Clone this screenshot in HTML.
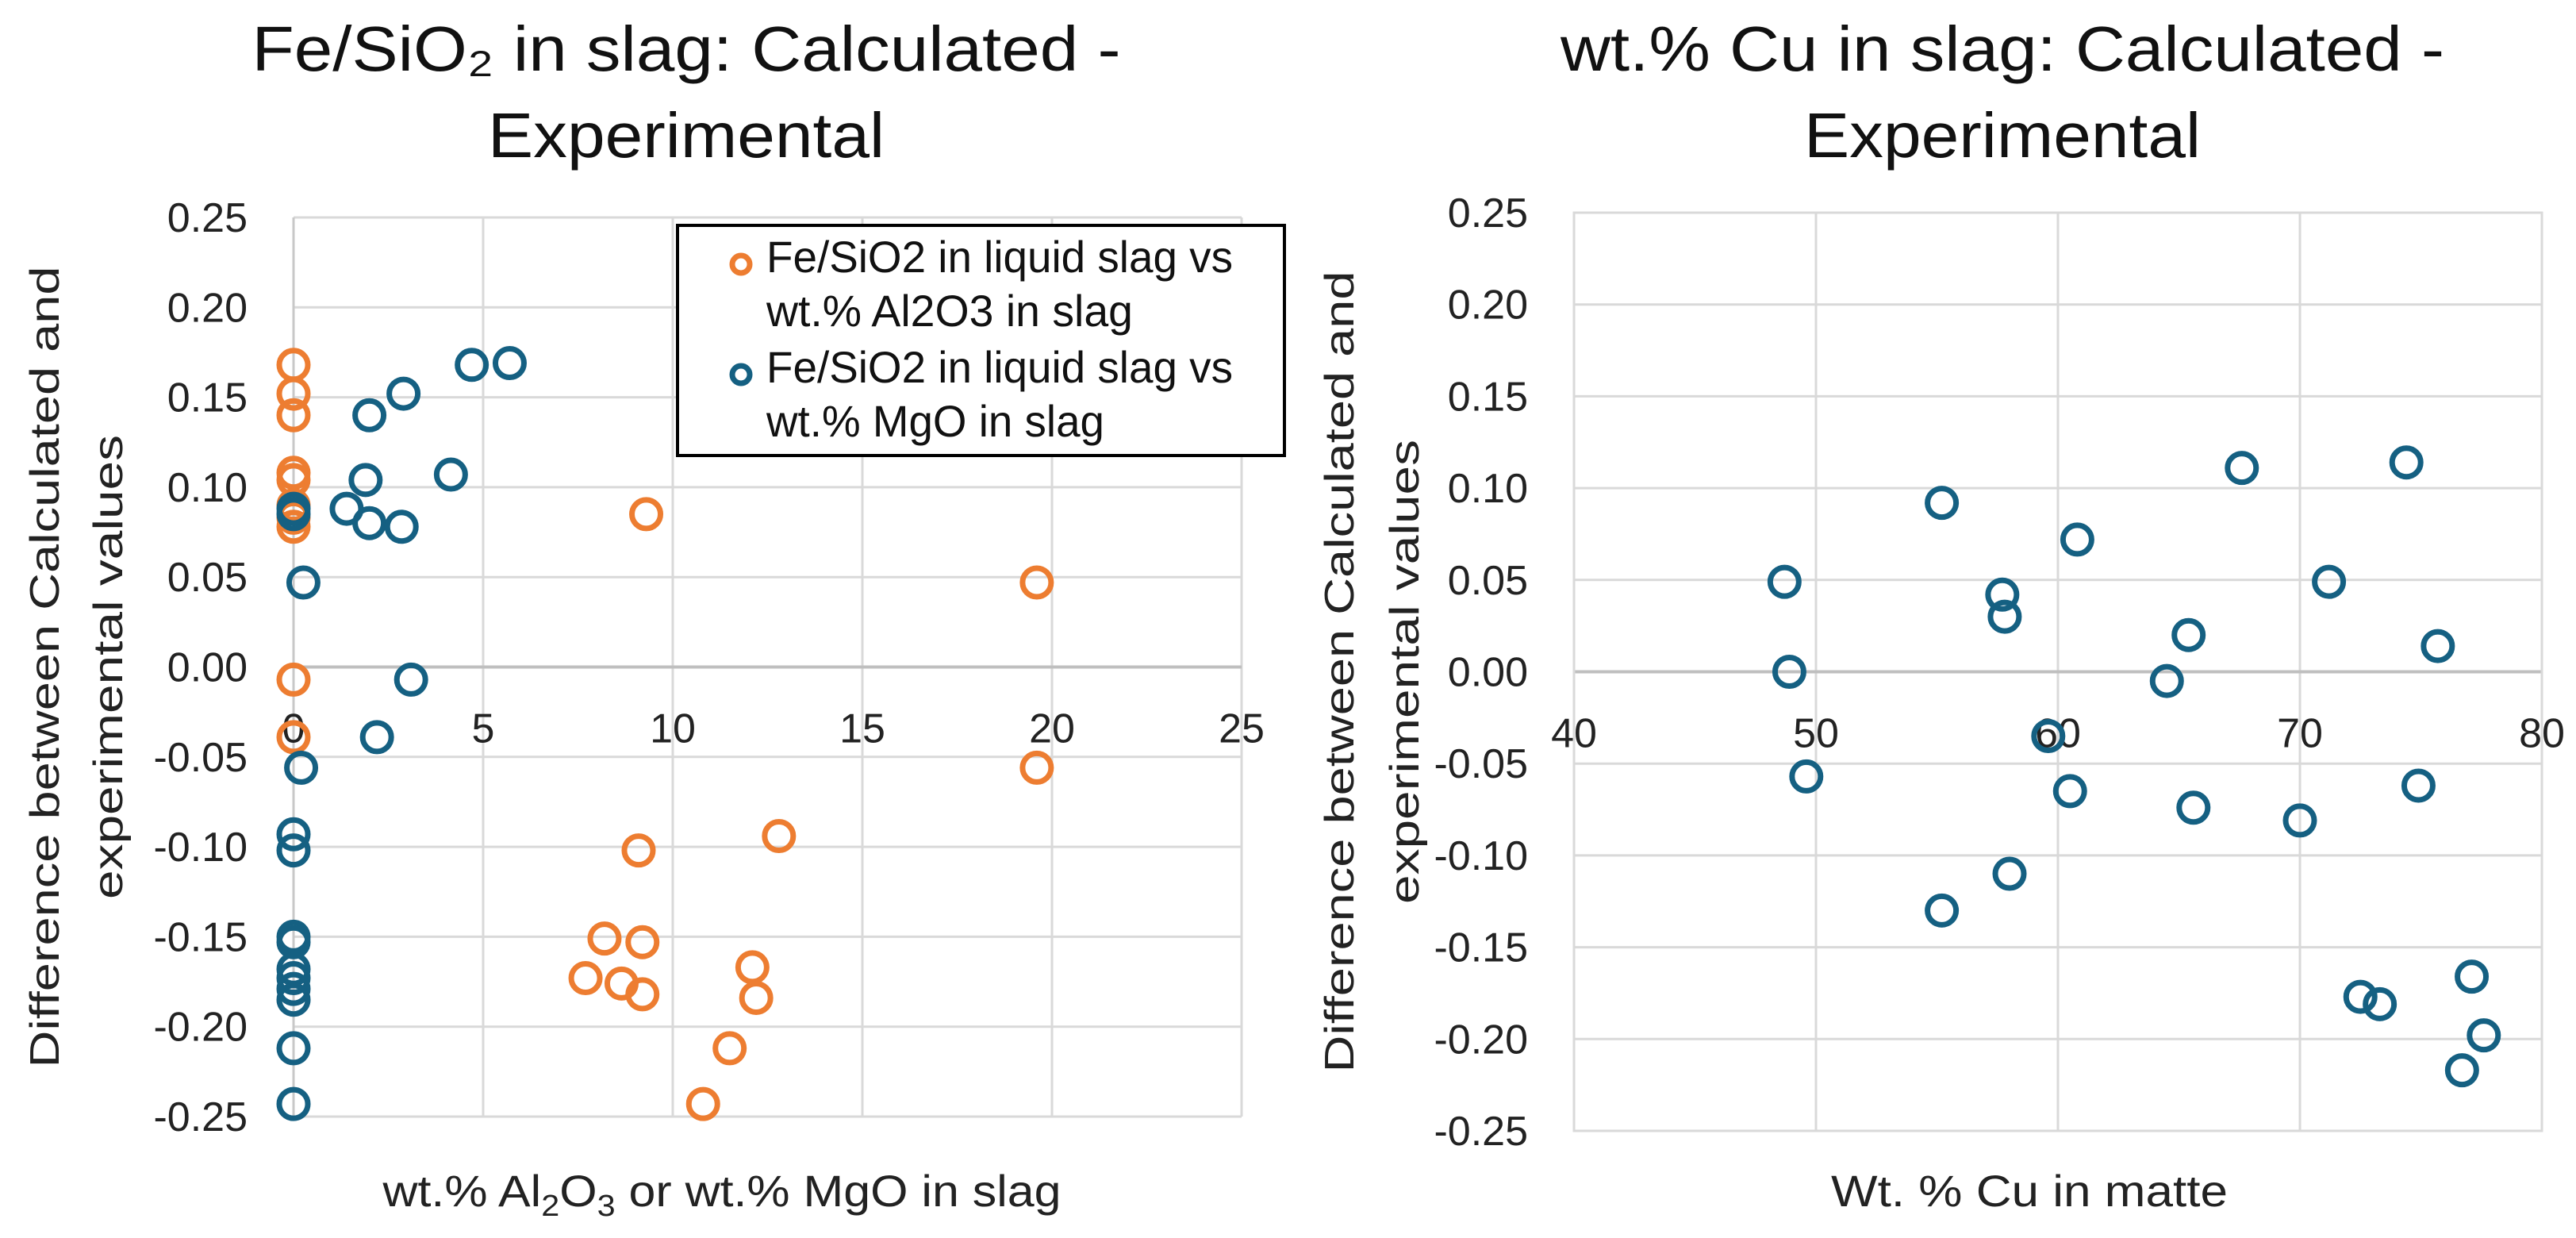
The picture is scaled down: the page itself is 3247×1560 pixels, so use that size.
<!DOCTYPE html>
<html><head><meta charset="utf-8"><style>
html,body{margin:0;padding:0;background:#fff;}
svg{display:block;font-family:"Liberation Sans",sans-serif;}
</style></head><body>
<svg id="c" width="3247" height="1560" viewBox="0 0 3247 1560" xmlns="http://www.w3.org/2000/svg">
<rect width="3247" height="1560" fill="#fff"/>
<g id="left"></g>
<g id="right"></g>
</svg>
<script>
// ---- Left chart data ----
const alX = [0,0,0,0,0,0,0,0,0,0,9.3,19.6,19.6,9.1,12.8,8.2,9.2,7.7,8.65,9.2,12.1,12.2,11.5,10.8];
const alY = [0.168,0.152,0.140,0.108,0.104,0.090,0.083,0.078,-0.007,-0.039,0.085,0.047,-0.056,-0.102,-0.094,-0.151,-0.153,-0.173,-0.176,-0.182,-0.167,-0.184,-0.212,-0.243];
const mgX = [5.7,4.7,2.9,2.0,4.15,1.9,1.4,2.0,2.85,0,0,0.26,3.1,2.2,0.2,0,0,0,0,0,0,0,0,0,0];
const mgY = [0.169,0.168,0.152,0.140,0.107,0.104,0.088,0.080,0.078,0.088,0.085,0.047,-0.007,-0.039,-0.056,-0.093,-0.102,-0.150,-0.153,-0.168,-0.173,-0.179,-0.185,-0.212,-0.243];
const leftXTicks = [0,5,10,15,20,25];
// ---- Right chart data ----
const cuX = [48.7,48.9,49.6,55.2,55.2,57.7,57.8,58.0,59.6,60.8,60.5,64.5,65.4,65.6,67.6,70.0,71.2,72.5,73.3,74.4,74.9,75.7,77.1,77.6,76.7];
const cuY = [0.049,0.000,-0.057,0.092,-0.130,0.042,0.030,-0.110,-0.035,0.072,-0.065,-0.005,0.020,-0.074,0.111,-0.081,0.049,-0.177,-0.181,0.114,-0.062,0.014,-0.166,-0.198,-0.217];
const rightXTicks = [40,50,60,70,80];
const yTicks = [0.25,0.20,0.15,0.10,0.05,0.00,-0.05,-0.10,-0.15,-0.20,-0.25];

const NS="http://www.w3.org/2000/svg";
const ORANGE="#ED7D31", BLUE="#156082";
function mk(parent,tag,attrs,text){const e=document.createElementNS(NS,tag);for(const k in attrs)e.setAttribute(k,attrs[k]);if(text!==undefined)e.textContent=text;parent.appendChild(e);return e;}

function drawChart(g,cfg){
  const sx=v=>cfg.x0+(v-cfg.xmin)/(cfg.xmax-cfg.xmin)*(cfg.x1-cfg.x0);
  const sy=v=>cfg.y0+(0.25-v)/0.5*(cfg.y1-cfg.y0);
  yTicks.forEach(t=>{
    const l=mk(g,'line',{x1:cfg.x0,x2:cfg.x1,y1:sy(t),y2:sy(t),stroke:'#d9d9d9','stroke-width':3});
    
    
    const tx=mk(g,'text',{x:cfg.x0-58,y:sy(t)+18,'text-anchor':'end','font-size':52,fill:'#222'},t.toFixed(2).replace('-0.00','0.00'));
    
    
  });
  cfg.xticks.forEach(t=>{
    const l=mk(g,'line',{x1:sx(t),x2:sx(t),y1:cfg.y0,y2:cfg.y1,stroke:t===cfg.xmin?'#c8c8c8':'#d9d9d9','stroke-width':3});
    
    
    const tx=mk(g,'text',{x:sx(t),y:sy(0)+95,'text-anchor':'middle','font-size':52,fill:'#222'},String(t));
    
    
  });
  const ax=mk(g,'line',{x1:cfg.x0,x2:cfg.x1,y1:sy(0),y2:sy(0),stroke:'#bfbfbf','stroke-width':4});
  
  
  cfg.series.forEach(s=>{
    s.xs.forEach((xv,i)=>{
      const c=mk(g,'circle',{cx:sx(xv),cy:sy(s.ys[i]),r:18,fill:'none',stroke:s.color,'stroke-width':7});
      
      
    });
  });
  const t1=mk(g,'text',{x:cfg.tc,y:89,'text-anchor':'middle','font-size':80,fill:'#111',textLength:cfg.tw,lengthAdjust:'spacingAndGlyphs'},cfg.title1);
  
  
  const t2=mk(g,'text',{x:cfg.tc,y:198,'text-anchor':'middle','font-size':80,fill:'#111',textLength:500,lengthAdjust:'spacingAndGlyphs'},'Experimental');
  
  
  const yc=(cfg.y0+cfg.y1)/2;
  const ya=mk(g,'text',{x:0,y:0,transform:`translate(${cfg.yt1},${yc}) rotate(-90)`,'text-anchor':'middle','font-size':52,fill:'#222',textLength:1010,lengthAdjust:'spacingAndGlyphs'},'Difference between Calculated and');
  
  
  const yb=mk(g,'text',{x:0,y:0,transform:`translate(${cfg.yt2},${yc}) rotate(-90)`,'text-anchor':'middle','font-size':52,fill:'#222',textLength:585,lengthAdjust:'spacingAndGlyphs'},'experimental values');
  
  
  return {sx,sy};
}

const L=document.getElementById('left');
drawChart(L,{x0:370,x1:1565,xmin:0,xmax:25,y0:274,y1:1407,xticks:leftXTicks,tc:865,tw:1095,
  title1:'Fe/SiO\u2082 in slag: Calculated -',yt1:74,yt2:154,
  series:[{xs:alX,ys:alY,color:ORANGE,name:'al2o3'},{xs:mgX,ys:mgY,color:BLUE,name:'mgo'}]});
const lxt=mk(L,'text',{x:910,y:1520,'text-anchor':'middle','font-size':56,fill:'#222',textLength:855,lengthAdjust:'spacingAndGlyphs'});
lxt.innerHTML='wt.% Al<tspan font-size="38" dy="12">2</tspan><tspan dy="-12">O</tspan><tspan font-size="38" dy="12">3</tspan><tspan dy="-12"> or wt.% MgO in slag</tspan>';


const lg=mk(L,'g',{});


mk(lg,'rect',{x:854,y:284,width:765,height:290,fill:'#fff',stroke:'#000','stroke-width':4});
const legItems=[{c:ORANGE,y:333,l1:'Fe/SiO2 in liquid slag vs',l2:'wt.% Al2O3 in slag',w2:462,n:'legend-entry-al2o3'},{c:BLUE,y:472,l1:'Fe/SiO2 in liquid slag vs',l2:'wt.% MgO in slag',w2:426,n:'legend-entry-mgo'}];
legItems.forEach((it,i)=>{
  const e=mk(lg,'g',{});
  
  
  mk(e,'circle',{cx:934,cy:it.y,r:11,fill:'none',stroke:it.c,'stroke-width':7});
  mk(e,'text',{x:966,y:it.y+10,'font-size':56,fill:'#111',textLength:588,lengthAdjust:'spacingAndGlyphs'},it.l1);
  mk(e,'text',{x:966,y:it.y+78,'font-size':56,fill:'#111',textLength:it.w2,lengthAdjust:'spacingAndGlyphs'},it.l2);
});

const R=document.getElementById('right');
drawChart(R,{x0:1984,x1:3204,xmin:40,xmax:80,y0:268,y1:1425,xticks:rightXTicks,tc:2524,tw:1114,
  title1:'wt.% Cu in slag: Calculated -',yt1:1706,yt2:1788,
  series:[{xs:cuX,ys:cuY,color:BLUE,name:'cu'}]});
mk(R,'rect',{x:1984,y:268,width:1220,height:1157,fill:'none',stroke:'#d9d9d9','stroke-width':3});
const rxt=mk(R,'text',{x:2558,y:1520,'text-anchor':'middle','font-size':56,fill:'#222',textLength:500,lengthAdjust:'spacingAndGlyphs'},'Wt. % Cu in matte');


</script>
</body></html>
